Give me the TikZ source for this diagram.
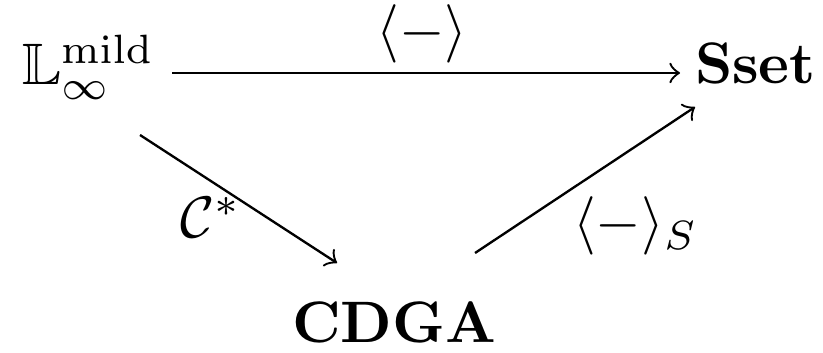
\documentclass[tikz,border=0pt]{standalone}
\usepackage{amssymb}
\begin{document}
\begin{tikzpicture}[x=0.1709pt,y=-0.1709pt,
  obj/.style={inner sep=0pt,outer sep=0pt},
  lbl/.style={inner sep=0pt,outer sep=0pt},
  arr/.style={->,line width=0.4pt}]
\useasboundingbox (0,0) rectangle (823,352);
% objects
\node[obj,anchor=base west] (L) at (22,85) {$\mathbb{L}_\infty^{\mathrm{mild}}$};
\node[obj,anchor=base west] (S) at (695,84) {$\mathbf{Sset}$};
\node[obj,anchor=base west] (C) at (292,342) {$\mathbf{CDGA}$};
% arrows
\draw[arr] ([shift={(150,-12)}]L.base west) -- ([shift={(-15,-11)}]S.base west);
\draw[arr] ([shift={(118,50)}]L.base west) -- ([shift={(45,-79)}]C.base west);
\draw[arr] ([shift={(183,-89)}]C.base west) -- ([shift={(0,23)}]S.base west);
% labels
\node[lbl] (top) at (422,34) {$\langle - \rangle$};
\node[lbl,anchor=base west] (cs) at (180,238) {$\mathcal{C}^*$};
\node[lbl,anchor=base west] (ls) at (573,241) {$\langle - \rangle_S$};
\end{tikzpicture}
\end{document}
